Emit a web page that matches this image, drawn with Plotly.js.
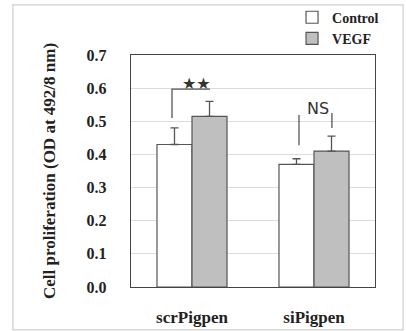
<!DOCTYPE html>
<html><head><meta charset="utf-8">
<script src="https://cdn.plot.ly/plotly-3.0.1.min.js"></script>
<style>html,body{margin:0;padding:0;background:#fff}#chart{width:406px;height:331px}</style>
</head><body><div id="chart"></div>
<script>
const categories = ["scrPigpen", "siPigpen"];
const controlValues = [0.43, 0.37];
const controlErrors = [0.05, 0.017];
const vegfValues = [0.515, 0.41];
const vegfErrors = [0.045, 0.045];
const seriesNames = ["Control", "VEGF"];
const yTicks = [0, 0.1, 0.2, 0.3, 0.4, 0.5, 0.6, 0.7];
const yTickLabels = ["0.0", "0.1", "0.2", "0.3", "0.4", "0.5", "0.6", "0.7"];

const serif = "'Liberation Serif', 'Times New Roman', serif";
const edge = "#555";

const traces = [
  {type: "bar", name: seriesNames[0], x: categories, y: controlValues,
   marker: {color: "#ffffff", line: {color: edge, width: 1.2}},
   error_y: {type: "data", array: controlErrors, symmetric: false, arrayminus: [0, 0], color: edge, thickness: 1.3, width: 4}},
  {type: "bar", name: seriesNames[1], x: categories, y: vegfValues,
   marker: {color: "#bfbfbf", line: {color: edge, width: 1.2}},
   error_y: {type: "data", array: vegfErrors, symmetric: false, arrayminus: [0, 0], color: edge, thickness: 1.3, width: 4}}
];

const lineStyle = {color: "#555", width: 1.3};
const layout = {
  width: 406, height: 331,
  margin: {l: 131, r: 31, t: 55, b: 44},
  paper_bgcolor: "#fff", plot_bgcolor: "#fff",
  barmode: "group", bargap: 0.426, bargroupgap: 0,
  showlegend: true,
  legend: {x: 0.66, y: 0.995, xanchor: "left", yanchor: "top", yref: "container",
           bgcolor: "rgba(0,0,0,0)",
           font: {family: serif, size: 14, color: "#222", weight: "bold"},
           tracegroupgap: 0, itemwidth: 30},
  font: {family: serif, color: "#222"},
  xaxis: {type: "category", range: [-0.5, 1.5], showgrid: false, zeroline: false,
          showline: true, mirror: true, linecolor: "#444", linewidth: 1.2, ticks: "",
          ticklabelstandoff: 14,
          tickfont: {family: serif, size: 17, color: "#222", weight: "bold"}},
  yaxis: {range: [0, 0.7], tickvals: yTicks, ticktext: yTickLabels, showgrid: true,
          gridcolor: "#dcdcdc", gridwidth: 1, zeroline: false,
          showline: true, mirror: true, linecolor: "#444", linewidth: 1.2, ticks: "",
          ticklabelstandoff: 20,
          tickfont: {family: serif, size: 16, color: "#222", weight: "bold"},
          title: {text: "Cell proliferation (OD at 492/8 nm)", standoff: 26,
                  font: {family: serif, size: 17, color: "#222", weight: "bold"}}},
  shapes: [
    {type: "rect", xref: "paper", yref: "paper", x0: -0.484, x1: 1.115, y0: -0.185, y1: 1.216,
     line: {color: "#cfcfcf", width: 1.2}, layer: "below"},
    {type: "path", xref: "x", yref: "y", path: "M -0.164 0.51 L -0.164 0.597 L 0.147 0.597", line: lineStyle},
    {type: "line", xref: "x", yref: "y", x0: 0.877, x1: 0.877, y0: 0.428, y1: 0.519, line: lineStyle},
    {type: "line", xref: "x", yref: "y", x0: 1.147, x1: 1.147, y0: 0.48, y1: 0.525, line: lineStyle}
  ],
  annotations: [
    {xref: "x", yref: "y", x: 0.033, y: 0.614, text: "★★", showarrow: false, yanchor: "middle",
     font: {family: "DejaVu Sans, sans-serif", size: 16, color: "#333"}},
    {xref: "x", yref: "y", x: 1.03, y: 0.54, text: "NS", showarrow: false,
     font: {family: "DejaVu Sans, sans-serif", size: 16, color: "#333"}}
  ]
};
Plotly.newPlot("chart", traces, layout, {displayModeBar: false, staticPlot: true});
</script></body></html>
